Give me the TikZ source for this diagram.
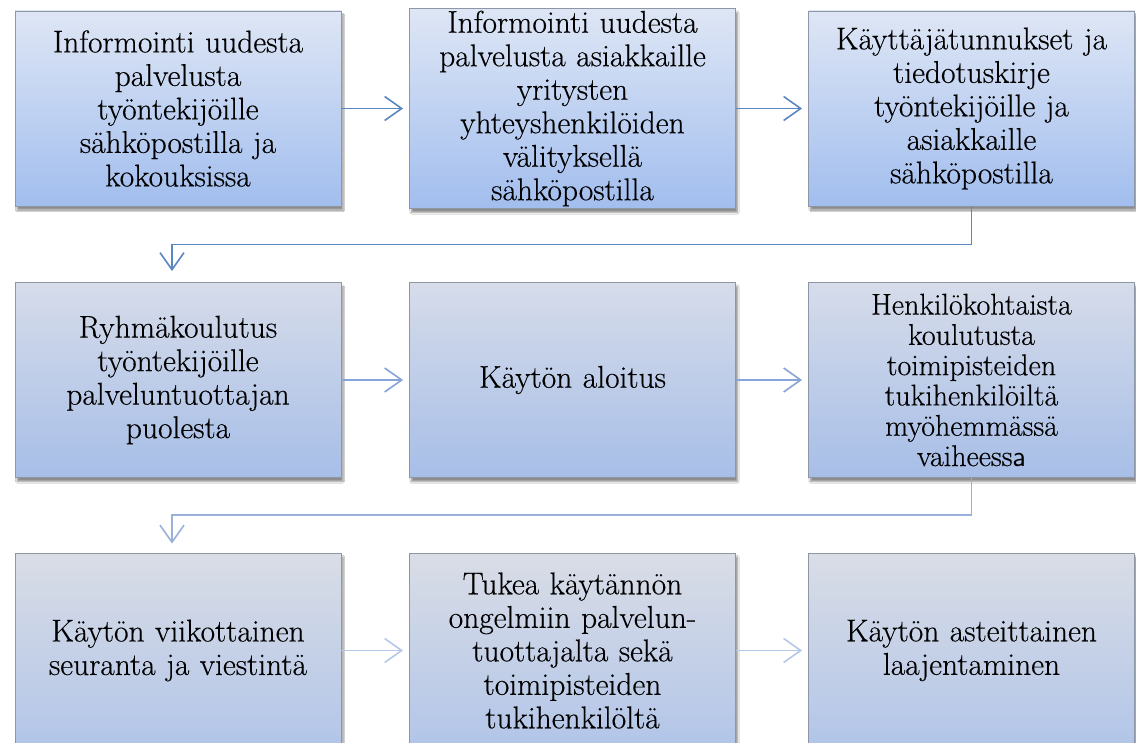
\documentclass[tikz,border=0pt]{standalone}
\usepackage{fontspec}
\newfontfamily\lmr{Latin Modern Roman}[FakeBold=0.35]
\usetikzlibrary{arrows.meta,shadows.blur,calc}
\definecolor{boxline}{HTML}{8E97A6}
\definecolor{t1}{HTML}{DEE6F5}
\definecolor{u1}{HTML}{A2BEEE}
\definecolor{t2}{HTML}{D6DCEA}
\definecolor{u2}{HTML}{A7BEE7}
\definecolor{t3}{HTML}{D9DDE6}
\definecolor{u3}{HTML}{B2C5E8}
\definecolor{a1}{HTML}{5A86C1}
\definecolor{a2}{HTML}{86A4D5}
\definecolor{e2}{HTML}{98B0DA}
\definecolor{a3}{HTML}{B5C8E7}
\tikzset{
  box/.style={draw=boxline, line width=0.9pt, minimum width=326pt, minimum height=195pt,
    inner sep=2pt, align=center, text width=322pt,
    font=\lmr\fontsize{31.5}{33.5}\selectfont,
    blur shadow={shadow xshift=2pt, shadow yshift=-4pt, shadow blur steps=6, shadow opacity=45}},
  smalltext/.style={font=\lmr\fontsize{30}{30.3}\selectfont},
  rowone/.style={box, top color=t1, bottom color=u1},
  rowtwo/.style={box, top color=t2, bottom color=u2},
  rowthree/.style={box, top color=t3, bottom color=u3},
  conn/.style={line width=1.6pt, -{Straight Barb[length=17pt,width=24pt,line width=1.6pt]}},
}
\begin{document}
\begin{tikzpicture}[x=1pt,y=1pt]
\clip (0,0) rectangle (1136,-743);
\fill[white] (0,0) rectangle (1136,-743);
% row 1
\node[rowone] (b1) at (178,-108.5) {Informointi uudesta\\palvelusta\\työntekijöille\\sähköpostilla ja\\kokouksissa};
\node[rowone] (b2) at (572.5,-108.5) {Informointi uudesta\\palvelusta asiakkaille\\yritysten\\yhteyshenkilöiden\\välityksellä\\sähköpostilla};
\node[rowone] (b3) at (971.5,-108.5) {Käyttäjätunnukset ja\\tiedotuskirje\\työntekijöille ja\\asiakkaille\\sähköpostilla};
% row 2
\node[rowtwo] (b4) at (178,-380) {Ryhmäkoulutus\\työntekijöille\\palveluntuottajan\\puolesta};
\node[rowtwo] (b5) at (572.5,-380) {Käytön aloitus};
\node[rowtwo, smalltext] (b6) at (971.5,-380) {Henkilökohtaista\\koulutusta\\toimipisteiden\\tukihenkilöiltä\\myöhemmässä\\vaiheess{\sffamily a}};
% row 3
\node[rowthree] (b7) at (178,-650.5) {Käytön viikottainen\\seuranta ja viestintä};
\node[rowthree] (b8) at (572.5,-650.5) {Tukea käytännön\\ongelmiin palvelun-\\tuottajalta sekä\\toimipisteiden\\tukihenkilöltä};
\node[rowthree] (b9) at (971.5,-650.5) {Käytön asteittainen\\laajentaminen};
% connectors
\draw[conn, a1] (b1.east) -- ([xshift=-6pt]b2.west);
\draw[conn, a1] (b2.east) -- ([xshift=-6pt]b3.west);
\draw[conn, a1] (b3.south) -- ++(0,-38) -| ([xshift=-6pt,yshift=11pt]b4.north);
\draw[conn, a2] (b4.east) -- ([xshift=-6pt]b5.west);
\draw[conn, a2] (b5.east) -- ([xshift=-6pt]b6.west);
\draw[conn, e2] (b6.south) -- ++(0,-37) -| ([xshift=-6pt,yshift=9pt]b7.north);
\draw[conn, a3] (b7.east) -- ([xshift=-6pt]b8.west);
\draw[conn, a3] (b8.east) -- ([xshift=-6pt]b9.west);
\end{tikzpicture}
\end{document}
